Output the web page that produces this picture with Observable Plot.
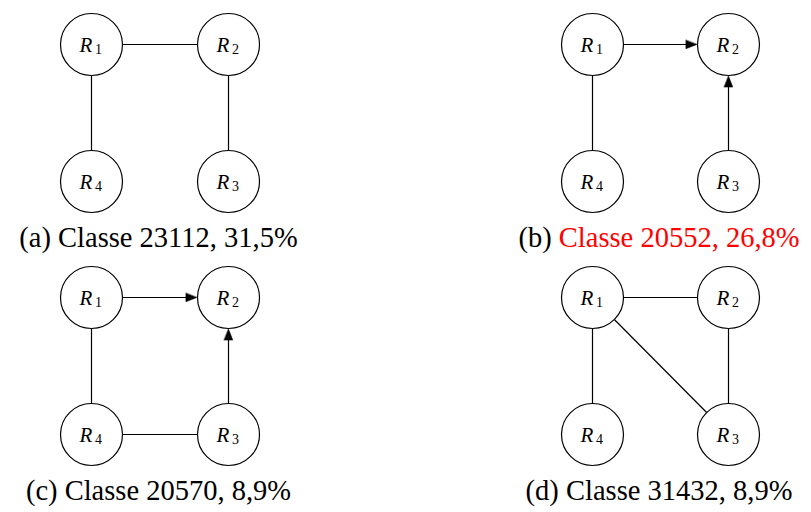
<!DOCTYPE html>
<html><head><meta charset="utf-8">
<script src="https://cdn.jsdelivr.net/npm/d3@7"></script>
<script src="https://cdn.jsdelivr.net/npm/@observablehq/plot@0.6"></script>
<style>
body{margin:0;background:#fff}
</style>
</head><body><div id="chart"></div>
<script>
// ---- data ----
const panelIds = ["a", "b", "c", "d"];
const classCodes = ["23112", "20552", "20570", "31432"];
const classShares = ["31,5%", "26,8%", "8,9%", "8,9%"];
const highlighted = [false, true, false, false];
const nodeNames = ["R1", "R2", "R3", "R4"];
const nodeSubs = ["1", "2", "3", "4"];
// edges per panel: [from, to, directed]
const panelEdges = [
  [["R1", "R2", 0], ["R1", "R4", 0], ["R2", "R3", 0]],
  [["R1", "R2", 1], ["R3", "R2", 1], ["R1", "R4", 0]],
  [["R1", "R2", 1], ["R3", "R2", 1], ["R1", "R4", 0], ["R4", "R3", 0]],
  [["R1", "R2", 0], ["R1", "R4", 0], ["R2", "R3", 0], ["R1", "R3", 0]]
];

// ---- layout ----
const W = 811, H = 512;
const panelCol = [0, 1, 0, 1], panelRow = [0, 0, 1, 1];
const colX0 = [91, 592], rowY0 = [44, 297];
const stepX = [137, 136], stepY = 137;
const gridCol = {R1: 0, R2: 1, R3: 1, R4: 0};
const gridRow = {R1: 0, R2: 0, R3: 1, R4: 1};
const R = 31, headLen = 11, headHalf = 4.3;
const serif = "Liberation Serif";
const capSize = 28.5;

function pos(p, n) {
  return [colX0[panelCol[p]] + gridCol[n] * stepX[panelCol[p]],
          rowY0[panelRow[p]] + gridRow[n] * stepY];
}

const nodes = [];
panelIds.forEach((id, p) => nodeNames.forEach((n, i) => {
  const [x, y] = pos(p, n);
  nodes.push({panel: id, name: n, sub: nodeSubs[i], x, y});
}));

const segs = [], heads = [];
panelEdges.forEach((list, p) => list.forEach(([a, b, dir], k) => {
  const [x1, y1] = pos(p, a), [x2, y2] = pos(p, b);
  const L = Math.hypot(x2 - x1, y2 - y1), ux = (x2 - x1) / L, uy = (y2 - y1) / L;
  const sx = x1 + ux * R, sy = y1 + uy * R;
  const tx = x2 - ux * (R + 0.6), ty = y2 - uy * (R + 0.6);
  const ex = dir ? tx - ux * (headLen - 1) : x2 - ux * R, ey = dir ? ty - uy * (headLen - 1) : y2 - uy * R;
  segs.push({x1: sx, y1: sy, x2: ex, y2: ey});
  if (dir) {
    const bx = tx - ux * headLen, by = ty - uy * headLen, px = -uy, py = ux;
    const id = p + "-" + k;
    heads.push({id, x: tx, y: ty});
    heads.push({id, x: bx + px * headHalf, y: by + py * headHalf});
    heads.push({id, x: bx - px * headHalf, y: by - py * headHalf});
  }
}));

// captions
const ctx = document.createElement("canvas").getContext("2d");
ctx.font = `${capSize}px "${serif}"`;
const capPieces = [];
panelIds.forEach((id, p) => {
  const c = panelCol[p], r = panelRow[p];
  const cx = colX0[c] + stepX[c] / 2 - 1.5;
  const cy = rowY0[r] + stepY + 65;
  const pre = `(${id}) `, main = `Classe ${classCodes[p]}, ${classShares[p]}`;
  const w1 = ctx.measureText(pre).width, w2 = ctx.measureText(main).width;
  const x0 = cx - (w1 + w2) / 2;
  capPieces.push({x: x0, y: cy, text: pre.trim(), color: "black"});
  capPieces.push({x: x0 + w1, y: cy, text: main, color: highlighted[p] ? "#ff0000" : "black"});
});

const chart = Plot.plot({
  width: W, height: H, margin: 0,
  x: {domain: [0, W], range: [0, W], axis: null},
  y: {domain: [0, H], range: [0, H], axis: null},
  style: {background: "white"},
  marks: [
    Plot.link(segs, {x1: "x1", y1: "y1", x2: "x2", y2: "y2", stroke: "black", strokeWidth: 1.2}),
    Plot.line(heads, {x: "x", y: "y", z: "id", fill: "black", stroke: "black", strokeWidth: 0.5, curve: "linear-closed"}),
    Plot.dot(nodes, {x: "x", y: "y", r: R, fill: "white", stroke: "black", strokeWidth: 1.2}),
    Plot.text(nodes, {x: "x", y: "y", text: () => "R", fontStyle: "italic", fontSize: 21,
      dx: -5.5, dy: 7.7, lineAnchor: "bottom", fill: "black"}),
    Plot.text(nodes, {x: "x", y: "y", text: "sub", fontSize: 14,
      dx: 7, dy: 9.3, lineAnchor: "bottom", fill: "black"}),
    Plot.text(capPieces, {x: "x", y: "y", text: "text", fill: "color", fontSize: capSize,
      textAnchor: "start", lineAnchor: "bottom"})
  ]
});
d3.select(chart).style("font-family", serif, "important");
d3.select(chart).selectAll("g, text").attr("font-family", serif).style("font-family", serif, "important");
document.getElementById("chart").appendChild(chart);
</script>
</body></html>
